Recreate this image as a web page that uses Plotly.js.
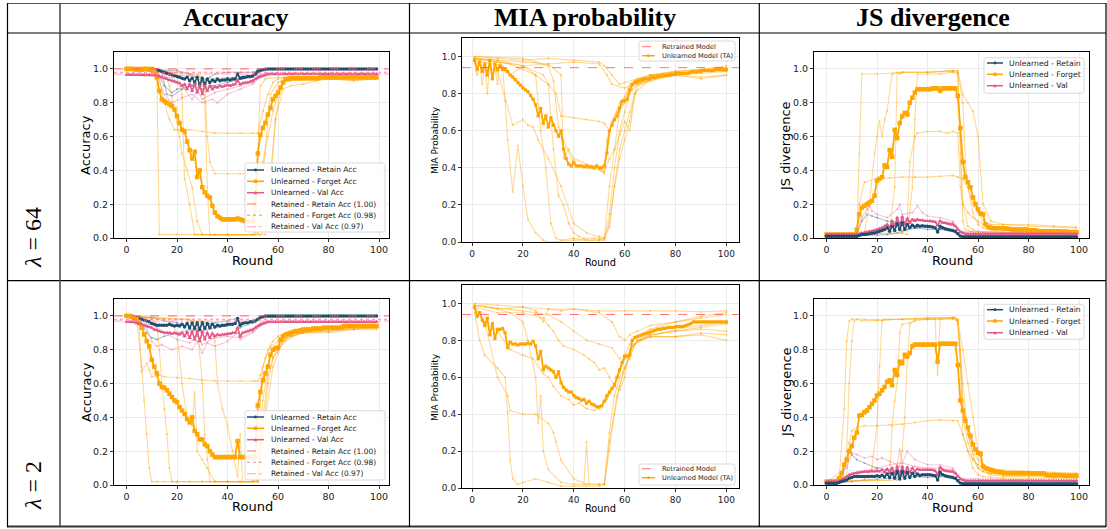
<!DOCTYPE html>
<html><head><meta charset="utf-8">
<script src="https://cdn.plot.ly/plotly-3.0.1.min.js"></script>
<style>html,body{margin:0;padding:0;background:#fff}#chart{width:1107px;height:529px}</style>
</head><body><div id="chart"></div>
<script>
// ===== DATA =====
const colHeaders = ["Accuracy", "MIA probability", "JS divergence"];
const rowLabels = ["<i>λ</i> = 64", "<i>λ</i> = 2"];
const accLegendLabels = ["Unlearned - Retain Acc","Unlearned - Forget Acc","Unlearned - Val Acc","Retained - Retain Acc (1.00)","Retained - Forget Acc (0.98)","Retained - Val Acc (0.97)"];
const miaLegendLabels = ["Retrained Model","Unlearned Model (TA)"];
const jsLegendLabels = ["Unlearned - Retain","Unlearned - Forget","Unlearned - Val"];
const accRetrained = [1.00, 0.98, 0.97];
const miaRetrained = [0.94];

// --- λ=64, Accuracy (rounds 0..99)
const acc64Forget = [1,1,1,1,0.995,1,0.995,1,1,0.995,
 1,0.99,0.95,0.87,0.82,0.81,0.8,0.79,0.78,0.76,
 0.72,0.68,0.64,0.63,0.57,0.52,0.47,0.51,0.36,0.4,
 0.3,0.27,0.25,0.24,0.19,0.15,0.13,0.12,0.11,0.11,
 0.11,0.11,0.11,0.11,0.115,0.11,0.105,0.1,0.1,0.1,
 0.1,0.2,0.5,0.61,0.65,0.68,0.73,0.77,0.82,0.84,
 0.86,0.89,0.92,0.94,0.94,0.945,0.945,0.945,0.945,0.945,
 0.945,0.945,0.945,0.945,0.945,0.945,0.945,0.95,0.95,0.95,
 0.95,0.95,0.95,0.95,0.95,0.95,0.95,0.95,0.95,0.95,
 0.95,0.95,0.95,0.95,0.95,0.95,0.95,0.95,0.95,0.95];
const acc64Retain = [1,1,1,1,1,1,1,1,0.999,0.999,
 0.998,0.997,0.995,0.99,0.985,0.98,0.975,0.97,0.965,0.96,
 0.955,0.95,0.945,0.94,0.95,0.93,0.945,0.92,0.95,0.905,
 0.945,0.91,0.94,0.92,0.935,0.925,0.94,0.93,0.935,0.935,
 0.94,0.935,0.94,0.94,0.97,0.945,0.95,0.95,0.955,0.955,
 0.96,0.97,0.985,0.99,0.995,0.998,0.999,1,1,1,
 1,1,1,1,1,1,1,1,1,1, 1,1,1,1,1,1,1,1,1,1,
 1,1,1,1,1,1,1,1,1,1, 1,1,1,1,1,1,1,1,1,1];
const acc64Val = [0.965,0.965,0.965,0.965,0.965,0.965,0.965,0.965,0.965,0.965,
 0.965,0.965,0.962,0.955,0.95,0.945,0.94,0.935,0.93,0.925,
 0.92,0.915,0.9,0.91,0.88,0.91,0.87,0.91,0.86,0.9,
 0.85,0.9,0.87,0.9,0.88,0.895,0.89,0.9,0.895,0.9,
 0.905,0.9,0.905,0.91,0.93,0.91,0.915,0.92,0.92,0.925,
 0.93,0.94,0.95,0.955,0.96,0.965,0.97,0.97,0.97,0.97,
 0.97,0.97,0.97,0.97,0.97,0.97,0.97,0.97,0.97,0.97,
 0.97,0.97,0.97,0.97,0.97,0.97,0.97,0.97,0.97,0.97,
 0.97,0.97,0.97,0.97,0.97,0.97,0.97,0.97,0.97,0.97,
 0.97,0.97,0.97,0.97,0.97,0.97,0.97,0.97,0.97,0.97];
const acc64ForgetRuns = [
 [[0,11,12,13,20,30,40,50,51,52,53,55,60,70,80,90,99],[1,1,0.98,0.02,0.02,0.02,0.02,0.02,0.02,0.5,0.9,0.94,0.95,0.95,0.96,0.95,0.96]],
 [[0,12,13,15,17,19,20,25,30,35,40,45,50,52,54,56,58,60,70,80,90,99],[1,1,0.95,0.8,0.7,0.64,0.64,0.64,0.63,0.62,0.62,0.62,0.62,0.62,0.75,0.85,0.92,0.94,0.95,0.95,0.95,0.95]],
 [[0,18,20,22,23,25,27,28,30,40,50,52,55,57,60,65,70,80,90,99],[1,0.98,0.95,0.85,0.35,0.2,0.02,0.02,0.02,0.02,0.02,0.03,0.5,0.85,0.92,0.94,0.95,0.95,0.94,0.95]],
 [[0,25,30,31,32,33,35,40,45,50,52,54,56,58,60,62,65,70,80,90,99],[1,0.97,0.95,0.9,0.6,0.45,0.38,0.38,0.38,0.38,0.38,0.45,0.6,0.75,0.85,0.92,0.93,0.94,0.94,0.95,0.95]],
 [[0,28,30,31,32,33,35,40,50,53,55,57,59,61,63,65,70,80,90,99],[1,0.97,0.95,0.8,0.3,0.02,0.02,0.02,0.02,0.02,0.05,0.4,0.7,0.88,0.93,0.94,0.94,0.95,0.93,0.94]],
 [[0,15,17,19,21,22,24,26,28,30,35,40,50,55,57,59,62,65,70,75,80,90,99],[1,0.98,0.9,0.75,0.6,0.5,0.4,0.3,0.1,0.02,0.02,0.02,0.02,0.02,0.3,0.7,0.88,0.9,0.91,0.93,0.94,0.93,0.95]]];
const acc64RetainRuns = [
 [[0,12,15,18,20,25,30,35,40,45,50,53,55,99],[1,0.99,0.9,0.86,0.88,0.9,0.92,0.93,0.93,0.94,0.95,0.99,1,1]],
 [[0,20,25,30,33,35,40,45,50,52,55,99],[1,0.99,0.97,0.93,0.95,0.97,0.98,0.98,0.98,0.99,1,1]],
 [[0,14,16,18,22,26,30,34,40,46,50,52,99],[1,0.98,0.85,0.84,0.88,0.9,0.88,0.9,0.92,0.94,0.96,1,1]]];
const acc64ValRuns = [
 [[0,12,15,18,22,26,30,34,36,40,45,50,53,55,99],[0.97,0.96,0.85,0.8,0.83,0.85,0.8,0.82,0.8,0.85,0.88,0.91,0.95,0.965,0.97]],
 [[0,18,22,26,28,30,35,40,45,50,53,56,99],[0.965,0.95,0.9,0.82,0.87,0.82,0.86,0.88,0.9,0.92,0.95,0.965,0.965]],
 [[0,25,30,35,40,45,50,52,55,99],[0.97,0.96,0.93,0.94,0.95,0.95,0.96,0.965,0.97,0.97]]];

// --- λ=64, MIA (rounds 1..100)
const mia64Main = [0.98,0.93,0.97,0.92,0.96,0.9,0.98,0.88,0.96,0.93,
 0.95,0.93,0.93,0.92,0.9,0.89,0.875,0.86,0.845,0.83,
 0.82,0.81,0.79,0.77,0.74,0.68,0.72,0.64,0.68,0.62,
 0.67,0.63,0.6,0.57,0.6,0.5,0.45,0.42,0.41,0.43,
 0.41,0.41,0.41,0.405,0.41,0.405,0.405,0.4,0.41,0.4,
 0.4,0.41,0.48,0.6,0.63,0.66,0.68,0.72,0.76,0.76,
 0.77,0.82,0.85,0.86,0.865,0.87,0.875,0.88,0.88,0.885,
 0.89,0.89,0.895,0.895,0.9,0.9,0.9,0.905,0.905,0.91,
 0.91,0.91,0.91,0.91,0.91,0.915,0.92,0.915,0.92,0.92,
 0.925,0.925,0.925,0.925,0.925,0.93,0.93,0.93,0.93,0.93];
const mia64Runs = [
 [[1,10,20,30,40,50,52,55,58,60,65,70,80,90,100],[1,0.99,0.98,0.99,0.98,0.97,0.95,0.9,0.85,0.86,0.88,0.9,0.92,0.93,0.94]],
 [[1,12,13,14,16,18,20,22,25,28,30,40,50,52,54,56,58,60,62,65,70,80,90,100],[0.98,0.95,0.76,0.55,0.27,0.52,0.3,0.12,0.05,0.01,0,0.01,0.01,0.02,0.3,0.5,0.7,0.78,0.85,0.88,0.9,0.91,0.92,0.93]],
 [[1,10,20,25,27,29,31,33,35,40,45,50,52,54,56,58,60,62,64,70,80,90,100],[0.99,0.97,0.95,0.9,0.6,0.4,0.1,0.02,0.01,0.02,0.01,0.01,0.01,0.15,0.4,0.6,0.7,0.8,0.87,0.9,0.92,0.93,0.95]],
 [[1,15,20,25,30,33,35,40,45,50,52,54,57,60,63,66,70,80,90,100],[0.99,0.96,0.93,0.9,0.85,0.8,0.68,0.67,0.66,0.65,0.64,0.6,0.7,0.75,0.85,0.87,0.88,0.9,0.92,0.93]],
 [[1,10,16,20,22,24,26,30,35,40,45,50,52,54,56,58,60,62,64,70,80,90,100],[0.97,0.92,0.63,0.66,0.63,0.62,0.55,0.45,0.3,0.1,0.05,0.03,0.02,0.08,0.3,0.45,0.55,0.65,0.8,0.88,0.9,0.91,0.92]],
 [[1,10,20,28,30,32,34,36,38,40,42,44,48,50,52,54,56,58,60,62,65,70,80,90,100],[0.99,0.98,0.95,0.9,0.85,0.5,0.25,0.2,0.1,0.05,0.03,0.02,0.02,0.02,0.02,0.1,0.3,0.5,0.6,0.7,0.85,0.88,0.9,0.93,0.92]],
 [[1,10,20,30,35,36,38,40,45,50,51,52,53,55,58,61,63,65,70,80,90,100],[0.99,0.98,0.97,0.96,0.9,0.45,0.5,0.45,0.42,0.4,0.38,0.37,0.55,0.65,0.75,0.8,0.82,0.85,0.87,0.9,0.88,0.9]],
 [[1,20,25,30,32,34,36,40,45,50,52,54,56,58,60,62,64,66,70,80,90,100],[1,0.99,0.97,0.95,0.87,0.62,0.55,0.42,0.4,0.39,0.38,0.45,0.5,0.58,0.65,0.6,0.8,0.85,0.87,0.91,0.92,0.94]],
 [[1,2,3,4,5,6,7,8,9,10,11,12,15,20,30,40,50,53,55,60,70,80,90,100],[0.97,0.9,0.98,0.85,0.95,0.8,0.97,0.88,0.95,0.85,0.97,0.93,0.9,0.95,0.96,0.97,0.96,0.9,0.85,0.83,0.88,0.9,0.89,0.9]]];

// --- λ=64, JS divergence (rounds 0..99)
const js64Forget = [0.02,0.02,0.02,0.02,0.02,0.02,0.02,0.02,0.02,0.02,
 0.02,0.02,0.05,0.14,0.18,0.19,0.2,0.21,0.22,0.25,
 0.34,0.35,0.36,0.43,0.42,0.52,0.48,0.64,0.59,0.68,
 0.72,0.74,0.73,0.8,0.83,0.86,0.88,0.88,0.88,0.88,
 0.88,0.88,0.885,0.885,0.885,0.87,0.885,0.885,0.885,0.885,
 0.885,0.885,0.84,0.65,0.45,0.36,0.33,0.3,0.24,0.2,
 0.17,0.145,0.14,0.08,0.065,0.06,0.058,0.058,0.058,0.058,
 0.058,0.055,0.055,0.052,0.05,0.05,0.05,0.05,0.05,0.05,
 0.045,0.045,0.045,0.045,0.04,0.04,0.04,0.04,0.04,0.04,
 0.04,0.04,0.04,0.038,0.038,0.038,0.035,0.035,0.035,0.035];
const js64Retain = [0.01,0.01,0.01,0.01,0.01,0.01,0.01,0.01,0.01,0.01,
 0.01,0.01,0.01,0.015,0.02,0.02,0.022,0.025,0.028,0.03,
 0.035,0.04,0.045,0.05,0.06,0.04,0.07,0.045,0.085,0.05,
 0.09,0.05,0.08,0.06,0.075,0.065,0.075,0.07,0.072,0.07,
 0.07,0.068,0.065,0.06,0.035,0.07,0.06,0.055,0.05,0.048,
 0.045,0.04,0.025,0.012,0.008,0.008,0.008,0.008,0.008,0.008,
 0.008,0.008,0.008,0.008,0.008,0.008,0.008,0.008,0.008,0.008,
 0.008,0.008,0.008,0.008,0.008,0.008,0.008,0.008,0.008,0.008,
 0.008,0.008,0.008,0.008,0.008,0.008,0.008,0.008,0.008,0.008,
 0.008,0.008,0.008,0.008,0.008,0.008,0.008,0.008,0.008,0.008];
const js64Val = [0.02,0.02,0.02,0.02,0.02,0.02,0.02,0.02,0.02,0.02,
 0.02,0.02,0.02,0.025,0.03,0.032,0.035,0.038,0.04,0.045,
 0.05,0.055,0.06,0.07,0.08,0.06,0.1,0.07,0.12,0.075,
 0.125,0.08,0.115,0.09,0.11,0.1,0.11,0.105,0.105,0.1,
 0.1,0.1,0.098,0.095,0.075,0.1,0.09,0.088,0.085,0.082,
 0.08,0.07,0.05,0.035,0.03,0.025,0.025,0.025,0.025,0.025,
 0.025,0.025,0.025,0.025,0.025,0.025,0.025,0.025,0.025,0.025,
 0.025,0.025,0.025,0.025,0.025,0.025,0.025,0.025,0.025,0.025,
 0.025,0.025,0.025,0.025,0.025,0.025,0.025,0.025,0.025,0.025,
 0.025,0.025,0.025,0.025,0.025,0.025,0.025,0.025,0.025,0.025];
const js64ForgetRuns = [
 [[0,12,13,14,20,30,40,50,52,53,54,56,58,60,70,80,90,99],[0.02,0.03,0.5,0.97,0.97,0.98,0.98,0.985,0.98,0.6,0.2,0.07,0.05,0.04,0.035,0.03,0.03,0.03]],
 [[0,15,17,19,20,21,22,23,24,26,30,40,50,52,54,56,58,60,62,65,70,80,90,99],[0.02,0.03,0.2,0.5,0.6,0.69,0.6,0.7,0.75,0.97,0.98,0.98,0.99,0.99,0.85,0.8,0.75,0.6,0.2,0.1,0.08,0.07,0.065,0.06]],
 [[0,30,32,33,35,36,40,45,48,50,52,53,54,56,58,60,62,65,70,80,90,99],[0.02,0.03,0.1,0.45,0.6,0.62,0.63,0.63,0.62,0.63,0.62,0.3,0.2,0.15,0.12,0.1,0.08,0.07,0.06,0.05,0.04,0.04]],
 [[0,12,13,15,20,25,30,35,40,45,50,52,54,56,58,60,62,65,70,80,90,99],[0.02,0.03,0.2,0.33,0.35,0.355,0.36,0.36,0.36,0.365,0.37,0.36,0.35,0.3,0.2,0.15,0.1,0.08,0.08,0.08,0.07,0.065]],
 [[0,20,25,27,28,29,30,40,50,52,54,55,56,58,60,62,65,70,80,90,99],[0.02,0.03,0.05,0.3,0.98,0.97,0.98,0.98,0.99,0.98,0.8,0.45,0.3,0.15,0.08,0.06,0.05,0.05,0.04,0.04,0.04]],
 [[0,30,32,34,35,36,40,45,50,52,53,54,55,57,60,65,70,80,90,99],[0.02,0.03,0.02,0.3,0.7,0.97,0.97,0.97,0.98,0.97,0.5,0.1,0.05,0.04,0.035,0.03,0.03,0.03,0.03,0.03]]];
const js64RetainRuns = [
 [[0,12,14,16,18,20,24,28,30,34,40,45,50,53,55,99],[0.01,0.02,0.1,0.14,0.13,0.12,0.1,0.09,0.08,0.07,0.06,0.055,0.04,0.01,0.005,0.005]],
 [[0,20,24,28,30,32,36,40,45,50,53,99],[0.01,0.015,0.02,0.03,0.04,0.05,0.06,0.05,0.05,0.04,0.01,0.005]]];
const js64ValRuns = [
 [[0,12,14,16,17,18,20,24,28,29,30,34,36,38,40,45,50,53,55,99],[0.02,0.03,0.12,0.17,0.19,0.16,0.14,0.12,0.17,0.2,0.14,0.15,0.19,0.15,0.13,0.12,0.1,0.04,0.03,0.025]],
 [[0,20,24,28,30,32,35,40,45,50,53,99],[0.02,0.03,0.06,0.1,0.09,0.1,0.11,0.1,0.1,0.09,0.04,0.025]]];

// --- λ=2, Accuracy
const acc2Forget = [1,1,0.995,0.99,0.98,0.96,0.93,0.89,0.85,0.82,
 0.74,0.7,0.66,0.6,0.58,0.575,0.56,0.54,0.52,0.5,
 0.49,0.46,0.44,0.42,0.39,0.37,0.4,0.32,0.3,0.27,
 0.27,0.24,0.23,0.2,0.18,0.165,0.165,0.165,0.165,0.165,
 0.165,0.165,0.165,0.165,0.26,0.165,0.165,0.165,0.165,0.165,
 0.165,0.165,0.47,0.55,0.62,0.66,0.7,0.77,0.8,0.81,
 0.81,0.86,0.88,0.89,0.895,0.9,0.905,0.91,0.91,0.915,
 0.92,0.92,0.92,0.92,0.925,0.925,0.925,0.925,0.93,0.93,
 0.93,0.93,0.93,0.93,0.93,0.93,0.94,0.94,0.94,0.94,
 0.94,0.94,0.94,0.94,0.94,0.94,0.94,0.94,0.94,0.94];
const acc2Retain = [1,1,1,0.995,0.99,0.985,0.98,0.975,0.97,0.965,
 0.955,0.95,0.945,0.945,0.945,0.945,0.945,0.95,0.945,0.94,
 0.945,0.94,0.95,0.935,0.955,0.93,0.96,0.925,0.96,0.92,
 0.96,0.925,0.955,0.93,0.95,0.935,0.945,0.94,0.945,0.945,
 0.95,0.95,0.95,0.955,0.985,0.945,0.955,0.96,0.96,0.965,
 0.965,0.97,0.98,0.99,0.995,1,1,1,1,1,
 1,1,1,1,1,1,1,1,1,1, 1,1,1,1,1,1,1,1,1,1,
 1,1,1,1,1,1,1,1,1,1, 1,1,1,1,1,1,1,1,1,1];
const acc2Val = [0.965,0.965,0.965,0.965,0.96,0.955,0.95,0.945,0.94,0.935,
 0.93,0.92,0.915,0.91,0.905,0.9,0.9,0.9,0.895,0.9,
 0.895,0.89,0.9,0.88,0.905,0.87,0.91,0.86,0.91,0.85,
 0.905,0.86,0.9,0.87,0.895,0.88,0.89,0.885,0.89,0.89,
 0.895,0.895,0.9,0.9,0.93,0.88,0.9,0.905,0.91,0.915,
 0.92,0.93,0.94,0.95,0.955,0.96,0.965,0.965,0.965,0.965,
 0.965,0.965,0.965,0.965,0.965,0.965,0.965,0.965,0.965,0.965,
 0.965,0.965,0.965,0.965,0.965,0.965,0.965,0.965,0.965,0.965,
 0.965,0.965,0.965,0.965,0.965,0.965,0.965,0.965,0.965,0.965,
 0.965,0.965,0.965,0.965,0.965,0.965,0.965,0.965,0.965,0.965];
const acc2ForgetRuns = [
 [[0,4,6,7,8,9,10,12,15,20,30,40,50,52,53,54,56,58,60,65,70,80,90,99],[1,0.98,0.7,0.5,0.3,0.1,0.02,0.02,0.02,0.02,0.02,0.02,0.02,0.02,0.5,0.7,0.8,0.85,0.88,0.9,0.91,0.92,0.92,0.93]],
 [[0,5,6,8,9,10,12,13,15,20,25,30,35,40,45,50,51,52,53,55,57,60,65,70,80,90,99],[1,0.95,0.67,0.72,0.68,0.64,0.64,0.65,0.64,0.635,0.63,0.62,0.615,0.615,0.615,0.615,0.615,0.615,0.65,0.75,0.82,0.85,0.88,0.9,0.92,0.93,0.93]],
 [[0,10,12,13,14,15,16,17,18,20,25,30,35,40,45,50,52,54,56,58,60,62,65,70,80,90,99],[1,0.98,0.95,0.8,0.6,0.45,0.3,0.1,0.02,0.02,0.02,0.02,0.02,0.02,0.02,0.02,0.03,0.3,0.6,0.75,0.8,0.85,0.88,0.9,0.91,0.92,0.92]],
 [[0,15,18,20,22,24,26,27,28,30,32,35,40,45,50,52,54,56,58,60,63,66,70,80,90,99],[1,0.98,0.95,0.9,0.6,0.4,0.35,0.55,0.2,0.15,0.1,0.02,0.02,0.02,0.02,0.05,0.4,0.65,0.75,0.8,0.85,0.88,0.9,0.91,0.93,0.93]],
 [[0,25,28,30,31,32,33,35,40,45,50,52,55,58,60,62,65,70,80,90,99],[1,0.98,0.95,0.6,0.3,0.15,0.02,0.02,0.02,0.02,0.02,0.02,0.4,0.7,0.78,0.85,0.9,0.91,0.92,0.93,0.94]],
 [[0,30,33,34,35,36,38,40,42,44,45,46,50,52,54,56,58,60,62,65,70,80,90,99],[1,0.97,0.95,0.9,0.85,0.6,0.45,0.35,0.2,0.05,0.3,0.02,0.02,0.02,0.5,0.7,0.8,0.82,0.86,0.88,0.9,0.9,0.92,0.94]]];
const acc2RetainRuns = [
 [[0,5,8,10,12,15,20,25,30,35,40,44,45,50,53,55,99],[1,0.99,0.9,0.87,0.86,0.88,0.9,0.92,0.91,0.93,0.94,0.97,0.93,0.96,0.99,1,1]],
 [[0,10,15,20,25,30,35,40,44,45,50,53,99],[1,0.99,0.97,0.96,0.94,0.95,0.96,0.97,0.99,0.96,0.97,0.99,1]]];
const acc2ValRuns = [
 [[0,8,10,12,14,18,22,26,28,30,32,35,40,44,45,50,53,56,99],[0.965,0.93,0.85,0.82,0.83,0.8,0.82,0.8,0.85,0.78,0.84,0.82,0.85,0.9,0.86,0.9,0.94,0.96,0.965]],
 [[0,10,15,20,25,28,30,35,40,45,50,53,56,99],[0.965,0.95,0.9,0.86,0.84,0.88,0.83,0.87,0.88,0.87,0.91,0.95,0.965,0.965]]];

// --- λ=2, MIA
const mia2Main = [0.98,0.93,0.95,0.91,0.88,0.92,0.83,0.89,0.81,0.86,
 0.86,0.865,0.84,0.76,0.79,0.78,0.78,0.775,0.78,0.78,
 0.78,0.785,0.78,0.795,0.77,0.7,0.74,0.64,0.66,0.65,
 0.64,0.63,0.6,0.63,0.57,0.545,0.53,0.52,0.52,0.5,
 0.49,0.485,0.475,0.48,0.46,0.47,0.455,0.45,0.44,0.44,
 0.445,0.47,0.5,0.52,0.54,0.56,0.6,0.64,0.68,0.715,
 0.715,0.72,0.8,0.815,0.82,0.825,0.83,0.835,0.84,0.845,
 0.85,0.855,0.86,0.86,0.865,0.865,0.87,0.87,0.87,0.875,
 0.875,0.875,0.875,0.88,0.885,0.89,0.9,0.9,0.9,0.9,
 0.9,0.9,0.9,0.9,0.9,0.9,0.9,0.9,0.9,0.9];
const mia2Runs = [
 [[1,10,20,30,40,50,60,70,80,90,100],[1,0.99,0.98,0.97,0.97,0.96,0.96,0.96,0.96,0.955,0.96]],
 [[1,5,10,20,25,28,30,35,40,45,50,55,58,60,62,65,70,80,90,100],[0.99,0.98,0.97,0.98,0.96,0.9,0.97,0.96,0.97,0.96,0.95,0.9,0.82,0.8,0.83,0.85,0.88,0.9,0.93,0.95]],
 [[1,10,20,28,30,32,34,36,40,44,46,48,50,52,54,56,58,60,62,65,70,80,90,100],[0.98,0.95,0.95,0.92,0.88,0.85,0.8,0.77,0.75,0.72,0.7,0.68,0.64,0.65,0.6,0.55,0.53,0.6,0.75,0.8,0.82,0.82,0.84,0.83]],
 [[1,3,5,10,13,14,15,16,18,20,25,30,35,40,45,50,52,54,56,58,60,62,64,66,70,80,90,100],[0.95,0.8,0.72,0.65,0.6,0.41,0.15,0.05,0.02,0.03,0.05,0.03,0.01,0.01,0.01,0.01,0.02,0.2,0.4,0.55,0.65,0.7,0.78,0.8,0.82,0.82,0.83,0.8]],
 [[1,5,10,14,15,20,25,30,32,33,35,40,45,50,52,54,56,58,60,62,65,70,80,90,100],[0.98,0.9,0.6,0.5,0.42,0.4,0.4,0.35,0.3,0.25,0.15,0.05,0.02,0.02,0.02,0.3,0.5,0.6,0.65,0.72,0.8,0.83,0.85,0.86,0.85]],
 [[1,10,15,20,22,25,26,27,28,30,35,40,44,45,46,50,52,54,57,60,63,66,70,80,90,100],[0.99,0.97,0.95,0.9,0.8,0.6,0.35,0.5,0.2,0.1,0.03,0.02,0.02,0.25,0.02,0.02,0.02,0.25,0.5,0.65,0.77,0.8,0.83,0.85,0.87,0.89]],
 [[1,5,10,15,20,24,28,30,32,35,38,40,42,45,48,50,53,56,60,64,70,80,90,100],[0.97,0.9,0.85,0.75,0.72,0.7,0.62,0.6,0.55,0.5,0.48,0.45,0.46,0.43,0.42,0.43,0.48,0.55,0.7,0.78,0.82,0.86,0.88,0.9]],
 [[1,15,20,25,30,35,40,45,50,55,58,60,62,64,70,80,90,100],[0.99,0.97,0.96,0.95,0.94,0.9,0.85,0.8,0.78,0.76,0.7,0.72,0.78,0.82,0.86,0.9,0.92,0.94]]];

// --- λ=2, JS divergence
const js2Forget = [0.02,0.02,0.02,0.02,0.02,0.04,0.07,0.12,0.15,0.2,
 0.23,0.28,0.31,0.41,0.415,0.43,0.44,0.46,0.48,0.5,
 0.53,0.54,0.56,0.58,0.61,0.62,0.59,0.68,0.65,0.73,
 0.72,0.77,0.76,0.78,0.82,0.83,0.83,0.83,0.83,0.83,
 0.83,0.83,0.83,0.83,0.73,0.835,0.835,0.835,0.835,0.835,
 0.835,0.835,0.71,0.5,0.44,0.38,0.34,0.29,0.24,0.21,
 0.19,0.185,0.11,0.1,0.095,0.09,0.085,0.08,0.078,0.075,
 0.072,0.07,0.07,0.07,0.07,0.07,0.07,0.07,0.07,0.07,
 0.07,0.068,0.068,0.068,0.068,0.068,0.068,0.06,0.058,0.058,
 0.058,0.058,0.058,0.058,0.055,0.055,0.055,0.055,0.055,0.055];
const js2Retain = [0.01,0.01,0.01,0.01,0.01,0.015,0.02,0.025,0.03,0.04,
 0.045,0.05,0.05,0.05,0.05,0.05,0.05,0.05,0.052,0.05,
 0.055,0.05,0.058,0.048,0.065,0.045,0.07,0.04,0.08,0.035,
 0.08,0.04,0.075,0.045,0.07,0.05,0.065,0.055,0.06,0.06,
 0.06,0.06,0.058,0.055,0.03,0.075,0.06,0.055,0.05,0.048,
 0.045,0.04,0.025,0.012,0.008,0.008,0.008,0.008,0.008,0.008,
 0.008,0.008,0.008,0.008,0.008,0.008,0.008,0.008,0.008,0.008,
 0.008,0.008,0.008,0.008,0.008,0.008,0.008,0.008,0.008,0.008,
 0.008,0.008,0.008,0.008,0.008,0.008,0.008,0.008,0.008,0.008,
 0.008,0.008,0.008,0.008,0.008,0.008,0.008,0.008,0.008,0.008];
const js2Val = [0.02,0.02,0.02,0.02,0.02,0.025,0.03,0.04,0.05,0.06,
 0.065,0.07,0.072,0.075,0.078,0.08,0.08,0.08,0.082,0.08,
 0.085,0.08,0.09,0.075,0.095,0.07,0.1,0.065,0.11,0.06,
 0.11,0.07,0.105,0.075,0.1,0.08,0.095,0.09,0.09,0.09,
 0.09,0.09,0.088,0.085,0.06,0.105,0.09,0.085,0.082,0.08,
 0.078,0.07,0.05,0.035,0.03,0.025,0.025,0.025,0.025,0.025,
 0.025,0.025,0.025,0.025,0.025,0.025,0.025,0.025,0.025,0.025,
 0.025,0.025,0.025,0.025,0.025,0.025,0.025,0.025,0.025,0.025,
 0.025,0.025,0.025,0.025,0.025,0.025,0.025,0.025,0.025,0.025,
 0.025,0.025,0.025,0.025,0.025,0.025,0.025,0.025,0.025,0.025];
const js2ForgetRuns = [
 [[0,5,7,8,9,10,15,20,30,40,50,51,52,53,54,56,58,60,62,65,70,80,90,99],[0.02,0.03,0.45,0.85,0.97,0.98,0.98,0.975,0.98,0.985,0.99,0.99,0.95,0.7,0.3,0.2,0.15,0.12,0.1,0.09,0.08,0.07,0.07,0.06]],
 [[0,6,8,9,10,11,12,14,20,30,40,50,52,54,56,58,60,62,64,70,80,90,99],[0.02,0.05,0.2,0.6,0.85,0.97,0.98,0.97,0.975,0.98,0.98,0.985,0.98,0.5,0.3,0.2,0.15,0.12,0.1,0.09,0.08,0.075,0.07]],
 [[0,8,9,10,12,15,20,25,30,35,40,45,50,52,54,56,58,60,62,65,70,80,90,99],[0.02,0.05,0.25,0.32,0.34,0.35,0.35,0.355,0.36,0.37,0.38,0.385,0.38,0.38,0.3,0.2,0.1,0.06,0.05,0.045,0.04,0.04,0.04,0.04]],
 [[0,15,18,20,21,22,23,25,30,40,50,52,53,54,56,58,60,62,65,70,80,90,99],[0.02,0.03,0.1,0.35,0.7,0.97,0.98,0.98,0.98,0.99,0.99,0.98,0.8,0.4,0.25,0.15,0.1,0.08,0.07,0.07,0.065,0.06,0.06]],
 [[0,25,26,27,28,29,30,35,40,43,44,45,50,52,54,56,58,60,62,65,70,80,90,99],[0.02,0.03,0.35,0.5,0.6,0.9,0.95,0.97,0.98,0.98,0.65,0.98,0.99,0.97,0.6,0.3,0.18,0.1,0.08,0.06,0.05,0.05,0.045,0.04]],
 [[0,28,30,31,32,33,35,40,45,50,52,54,56,58,60,62,64,70,80,90,99],[0.02,0.03,0.2,0.4,0.75,0.95,0.98,0.98,0.98,0.98,0.97,0.8,0.6,0.4,0.2,0.1,0.07,0.06,0.06,0.055,0.05]]];
const js2RetainRuns = [
 [[0,6,8,9,10,12,15,20,25,30,35,40,45,50,53,55,99],[0.01,0.02,0.15,0.21,0.18,0.15,0.13,0.1,0.09,0.08,0.07,0.06,0.06,0.05,0.01,0.005,0.005]],
 [[0,10,15,20,25,30,35,40,45,50,53,99],[0.01,0.02,0.03,0.035,0.04,0.05,0.05,0.045,0.05,0.04,0.01,0.005]]];
const js2ValRuns = [
 [[0,8,10,12,15,18,20,22,25,28,29,30,32,35,40,45,50,53,55,99],[0.02,0.1,0.19,0.18,0.16,0.17,0.15,0.16,0.14,0.12,0.21,0.13,0.2,0.15,0.12,0.12,0.1,0.04,0.03,0.025]],
 [[0,10,15,20,25,30,35,40,45,50,53,99],[0.02,0.05,0.08,0.1,0.12,0.13,0.11,0.1,0.1,0.09,0.04,0.025]]];

// ===== STYLE / LAYOUT =====
const W = 1107, H = 529;
const X = p => p / W, Y = p => 1 - p / H;
const C_RET = '#1f4e6e', C_FOR = '#ffa500', C_VAL = '#e4578a';
const F_RET = 'rgba(31,78,110,0.32)', F_FOR = 'rgba(255,165,0,0.42)', F_VAL = 'rgba(228,87,138,0.32)';
const RETR = [{c:'rgba(255,90,90,0.75)',d:'dash'},{c:'rgba(255,90,140,0.75)',d:'dot'},{c:'rgba(255,140,165,0.8)',d:'dashdot'}];

const panels = [
 {n:1, xd:[114,389], yd:[52,238], xr:[-4.95,103.95], kind:'acc'},
 {n:2, xd:[462,739], yd:[38,242], xr:[-3.95,104.95], kind:'mia'},
 {n:3, xd:[814,1089], yd:[52,238], xr:[-4.95,103.95], kind:'js'},
 {n:4, xd:[114,389], yd:[299,485], xr:[-4.95,103.95], kind:'acc'},
 {n:5, xd:[462,739], yd:[285,488], xr:[-3.95,104.95], kind:'mia'},
 {n:6, xd:[814,1089], yd:[299,485], xr:[-4.95,103.95], kind:'js'}];

const layout = {width:W, height:H, margin:{l:0,r:0,t:0,b:0}, paper_bgcolor:'#fff', plot_bgcolor:'#fff',
  showlegend:false, font:{family:'DejaVu Sans', color:'#222'}, shapes:[], annotations:[]};
const traces = [];

panels.forEach(p => {
  const sfx = p.n === 1 ? '' : String(p.n);
  const tfs = p.kind === 'mia' ? 9 : 9.5;
  layout['xaxis'+sfx] = {domain:[X(p.xd[0]), X(p.xd[1])], range:p.xr, anchor:'y'+sfx,
    tickvals:[0,20,40,60,80,100], ticks:'outside', ticklen:3, tickwidth:0.8, tickcolor:'#000',
    showline:true, mirror:true, linecolor:'#000', linewidth:1, showgrid:true, gridcolor:'#e6e6e6', gridwidth:0.8,
    zeroline:false, tickfont:{size:tfs, color:'#222'}, fixedrange:true};
  layout['yaxis'+sfx] = {domain:[Y(p.yd[1]), Y(p.yd[0])], range:[0,1.1], anchor:'x'+sfx,
    tickvals:[0,0.2,0.4,0.6,0.8,1.0], tickformat:'.1f', ticks:'outside', ticklen:3, tickwidth:0.8, tickcolor:'#000',
    showline:true, mirror:true, linecolor:'#000', linewidth:1, showgrid:true, gridcolor:'#e6e6e6', gridwidth:0.8,
    zeroline:false, tickfont:{size:tfs, color:'#222'}, fixedrange:true};
  p.xa = 'x'+sfx; p.ya = 'y'+sfx;
});

function idx(arr, start){ return arr.map((_, i) => i + start); }
function faint(p, runs, color){
  runs.forEach(r => traces.push({type:'scatter', mode:'lines+markers', x:r[0], y:r[1], xaxis:p.xa, yaxis:p.ya,
    line:{color:color, width:1.1}, marker:{size:2.2, color:color}, hoverinfo:'skip'}));
}
function main(p, ys, start, color, symbol, msize, width){
  traces.push({type:'scatter', mode:'lines+markers', x:idx(ys,start), y:ys, xaxis:p.xa, yaxis:p.ya,
    line:{color:color, width:width}, marker:{symbol:symbol, size:msize, color:color, line:{width:0}}, hoverinfo:'skip'});
}
function hline(p, v, color, dash, width){
  traces.push({type:'scatter', mode:'lines', x:[p.xr[0], p.xr[1]], y:[v, v], xaxis:p.xa, yaxis:p.ya,
    line:{color:color, width:width, dash:dash}, hoverinfo:'skip'});
}

function accPanel(p, fr, rr, vr, ret, forg, val){
  faint(p, rr, F_RET); faint(p, fr, F_FOR); faint(p, vr, F_VAL);
  main(p, ret, 0, C_RET, 'circle', 3.5, 1.6);
  main(p, forg, 0, C_FOR, 'square', 4.5, 1.8);
  main(p, val, 0, C_VAL, 'triangle-up', 4, 1.6);
  accRetrained.forEach((v,i) => hline(p, v, RETR[i].c, RETR[i].d, 1.1));
}
function miaPanel(p, runs, m){
  faint(p, runs, F_FOR);
  main(p, m, 1, C_FOR, 'square', 3.2, 1.8);
  hline(p, miaRetrained[0], 'rgba(255,80,80,0.8)', 'dash', 1);
}
function jsPanel(p, fr, rr, vr, ret, forg, val){
  faint(p, rr, F_RET); faint(p, fr, F_FOR); faint(p, vr, F_VAL);
  main(p, forg, 0, C_FOR, 'square', 4.5, 1.8);
  main(p, val, 0, C_VAL, 'triangle-up', 4, 1.6);
  main(p, ret, 0, C_RET, 'circle', 3.5, 1.6);
}

accPanel(panels[0], acc64ForgetRuns, acc64RetainRuns, acc64ValRuns, acc64Retain, acc64Forget, acc64Val);
miaPanel(panels[1], mia64Runs, mia64Main);
jsPanel(panels[2], js64ForgetRuns, js64RetainRuns, js64ValRuns, js64Retain, js64Forget, js64Val);
accPanel(panels[3], acc2ForgetRuns, acc2RetainRuns, acc2ValRuns, acc2Retain, acc2Forget, acc2Val);
miaPanel(panels[4], mia2Runs, mia2Main);
jsPanel(panels[5], js2ForgetRuns, js2RetainRuns, js2ValRuns, js2Retain, js2Forget, js2Val);

// ----- table frame
const S = layout.shapes, A = layout.annotations;
function pline(x0,y0,x1,y1,w,c){ S.push({type:'line', xref:'paper', yref:'paper', x0:X(x0), y0:Y(y0), x1:X(x1), y1:Y(y1), line:{color:c||'#000', width:w||1.2}, layer:'above'}); }
pline(7,3.5,1106,3.5,1.2,'#555');
pline(7,33,1106,33,1.2);
pline(7,280.7,1106,280.7,1.2);
pline(7,526.5,1106,526.5,2,'#333');
pline(7.5,3,7.5,527,1.2);
pline(60,3,60,527,1.5,'#444');
pline(409.5,3,409.5,527,1.2);
pline(759.3,3,759.3,527,1.2);
pline(1106,3,1106,527,1.2);

// headers
[235, 584.5, 933].forEach((cx, i) => A.push({xref:'paper', yref:'paper', x:X(cx), y:Y(18), xanchor:'center', yanchor:'middle',
  text:'<b>'+colHeaders[i]+'</b>', showarrow:false, font:{family:'Liberation Serif', size:26, color:'#000'}}));
// row labels
[238, 486].forEach((cy, i) => A.push({xref:'paper', yref:'paper', x:X(33), y:Y(cy), xanchor:'center', yanchor:'middle',
  text:rowLabels[i], textangle:-90, showarrow:false, font:{family:'Liberation Serif', size:24, color:'#000'}}));

// axis titles
function atitle(x, y, text, size, rot){ A.push({xref:'paper', yref:'paper', x:X(x), y:Y(y), xanchor:'center', yanchor:'middle',
  text:text, textangle:rot?-90:0, showarrow:false, font:{family:'DejaVu Sans', size:size, color:'#000'}}); }
atitle(86,145,'Accuracy',13,true); atitle(252,260,'Round',13);
atitle(435,140,'MIA Probability',9,true); atitle(600,262,'Round',9.8);
atitle(786,146,'JS divergence',13,true); atitle(952,260,'Round',13);
atitle(86,392,'Accuracy',13,true); atitle(252,506,'Round',13);
atitle(435,387,'MIA Probability',9,true); atitle(600,508,'Round',9.8);
atitle(786,392,'JS divergence',13,true); atitle(952,507,'Round',13);

// ----- manual legends
function rrect(x0,y0,x1,y1,r){
  const a=X(x0),b=X(x1),c=Y(y0),d=Y(y1),rx=r/W,ry=r/H;
  return `M ${a+rx},${c} L ${b-rx},${c} Q ${b},${c} ${b},${c-ry} L ${b},${d+ry} Q ${b},${d} ${b-rx},${d} L ${a+rx},${d} Q ${a},${d} ${a},${d+ry} L ${a},${c-ry} Q ${a},${c} ${a+rx},${c} Z`;
}
function marker(sym, cx, cy, r, color){
  if (sym === 'circle') S.push({type:'circle', xref:'paper', yref:'paper', x0:X(cx-r), x1:X(cx+r), y0:Y(cy+r), y1:Y(cy-r), fillcolor:color, line:{width:0}, layer:'above'});
  else if (sym === 'square') S.push({type:'rect', xref:'paper', yref:'paper', x0:X(cx-r), x1:X(cx+r), y0:Y(cy+r), y1:Y(cy-r), fillcolor:color, line:{width:0}, layer:'above'});
  else if (sym === 'tri') S.push({type:'path', xref:'paper', yref:'paper', path:`M ${X(cx)},${Y(cy-r)} L ${X(cx+r)},${Y(cy+r*0.8)} L ${X(cx-r)},${Y(cy+r*0.8)} Z`, fillcolor:color, line:{width:0}, layer:'above'});
}
function legend(box, rows, lx, tx, fs, entries){
  S.push({type:'path', xref:'paper', yref:'paper', path:rrect(box[0],box[1],box[2],box[3],2.5), fillcolor:'rgba(255,255,255,0.85)', line:{color:'#cfcfcf', width:0.8}, layer:'above'});
  entries.forEach((e, i) => {
    const y = rows[i];
    S.push({type:'line', xref:'paper', yref:'paper', x0:X(lx[0]), x1:X(lx[1]), y0:Y(y), y1:Y(y), line:{color:e.c, width:e.w||1.5, dash:e.d||'solid'}, layer:'above'});
    if (e.s) marker(e.s, (lx[0]+lx[1])/2, y, e.r||1.6, e.c);
    A.push({xref:'paper', yref:'paper', x:X(tx), y:Y(y), xanchor:'left', yanchor:'middle', text:e.t, showarrow:false, borderpad:0,
      font:{family:'DejaVu Sans', size:fs, color:'#222'}});
  });
}
const accEntries = [
  {t:accLegendLabels[0], c:C_RET, s:'circle', r:1.4},
  {t:accLegendLabels[1], c:C_FOR, s:'square', r:1.7},
  {t:accLegendLabels[2], c:C_VAL, s:'tri', r:1.8},
  {t:accLegendLabels[3], c:RETR[0].c, d:'dash', w:1.1},
  {t:accLegendLabels[4], c:RETR[1].c, d:'dot', w:1.1},
  {t:accLegendLabels[5], c:RETR[2].c, d:'dashdot', w:1.1}];
legend([245,163,385,232],[170,181.3,192.7,204,215.3,226.7],[247,264],270,7.5,accEntries);
legend([245,410.7,385,480],[417,428.3,439.7,451,462.3,473.7],[247,264],270,7.5,accEntries);
const miaEntries = [
  {t:miaLegendLabels[0], c:'rgba(255,80,80,0.8)', d:'dash', w:1},
  {t:miaLegendLabels[1], c:C_FOR, s:'square', r:1.2, w:1.4}];
legend([639,41,735,61],[46.7,55.7],[642,655],660.7,6.6,miaEntries);
legend([639,464,735,485],[468.7,477.7],[642,655],660.7,6.6,miaEntries);
const jsEntries = [
  {t:jsLegendLabels[0], c:C_RET, s:'circle', r:1.4},
  {t:jsLegendLabels[1], c:C_FOR, s:'square', r:1.7},
  {t:jsLegendLabels[2], c:C_VAL, s:'tri', r:1.8}];
legend([984,57.7,1084,93.3],[63,74.3,85.7],[987,1003],1008.3,7.7,jsEntries);
legend([984,304.3,1084,339.3],[309.7,321,332.7],[987,1003],1008.3,7.7,jsEntries);

Plotly.newPlot('chart', traces, layout, {staticPlot:true, displayModeBar:false});
</script></body></html>
